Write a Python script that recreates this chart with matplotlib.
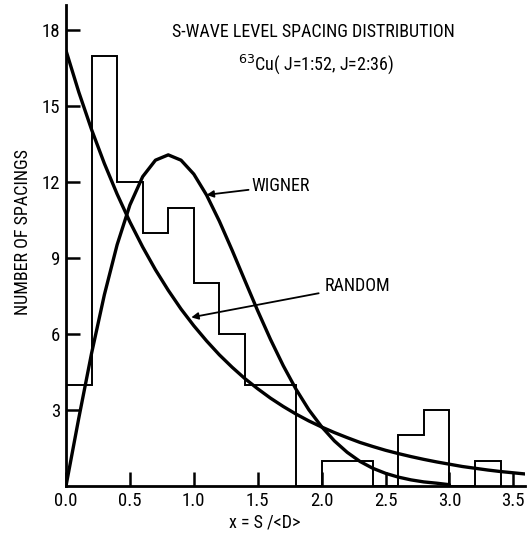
import matplotlib
matplotlib.use("Agg")
import matplotlib.pyplot as plt
from matplotlib import font_manager

names = {f.name for f in font_manager.fontManager.ttflist}
fam = [n for n in ["Liberation Sans Narrow", "DejaVu Sans Condensed", "Roboto Condensed"] if n in names]
plt.rcParams['font.family'] = fam + ['DejaVu Sans']

# Histogram: bin edges and counts
bin_edges = [0.0, 0.2, 0.4, 0.6, 0.8, 1.0, 1.2, 1.4, 1.6, 1.8, 2.0, 2.2, 2.4, 2.6, 2.8, 3.0, 3.2, 3.4]
counts = [4, 17, 12, 10, 11, 8, 6, 4, 4, 0, 1, 1, 0, 2, 3, 0, 1]

# Curves
curve_x = [0.0, 0.1, 0.2, 0.3, 0.4, 0.5, 0.6, 0.7, 0.8, 0.9, 1.0, 1.1, 1.2, 1.3, 1.4, 1.5,
           1.6, 1.7, 1.8, 1.9, 2.0, 2.1, 2.2, 2.3, 2.4, 2.5, 2.6, 2.7, 2.8, 2.9, 3.0,
           3.1, 3.2, 3.3, 3.4, 3.5, 3.6]
random_y = [17.2, 15.56, 14.08, 12.74, 11.53, 10.43, 9.44, 8.54, 7.73, 6.99, 6.33, 5.73,
            5.18, 4.69, 4.24, 3.84, 3.47, 3.14, 2.84, 2.57, 2.33, 2.11, 1.91, 1.72, 1.56,
            1.41, 1.28, 1.16, 1.05, 0.95, 0.86, 0.77, 0.70, 0.63, 0.57, 0.52, 0.47]
wigner_y = [0.0, 2.68, 5.24, 7.55, 9.53, 11.10, 12.22, 12.87, 13.08, 12.87, 12.32, 11.49,
            10.46, 9.31, 8.11, 6.92, 5.79, 4.75, 3.82, 3.01, 2.34, 1.78, 1.33, 0.97, 0.70,
            0.50, 0.35, 0.24, 0.16, 0.11, 0.05]

xticks = [0.0, 0.5, 1.0, 1.5, 2.0, 2.5, 3.0, 3.5]
xtick_labels = ["0.0", "0.5", "1.0", "1.5", "2.0", "2.5", "3.0", "3.5"]
yticks = [3, 6, 9, 12, 15, 18]

fig = plt.figure(figsize=(5.28, 5.38), dpi=100)
ax = fig.add_axes([0.125, 0.0967, 0.869, 0.894])

ax.stairs(counts, bin_edges, color='black', lw=1.4, baseline=0)
ax.plot(curve_x, random_y, color='black', lw=2.4, solid_capstyle='round')
ax.plot(curve_x[:len(wigner_y)], wigner_y, color='black', lw=2.4, solid_capstyle='round')

ax.set_xlim(0, 3.59)
ax.set_ylim(0, 19.0)
for s in ['top', 'right']:
    ax.spines[s].set_visible(False)
for s in ['left', 'bottom']:
    ax.spines[s].set_linewidth(2.0)
ax.set_xticks(xticks)
ax.set_xticklabels(xtick_labels)
ax.set_yticks(yticks)
ax.tick_params(direction='in', length=10, width=1.8, labelsize=13.5, pad=4)

ax.set_ylabel("NUMBER OF SPACINGS", fontsize=13)
ax.yaxis.set_label_coords(-0.074, 0.528)
ax.set_xlabel("x = S /<D>", fontsize=13)
ax.xaxis.set_label_coords(0.433, -0.058)

ax.text(0.54, 0.944, "S-WAVE LEVEL SPACING DISTRIBUTION", transform=ax.transAxes,
        ha='center', va='center', fontsize=13)
ax.text(0.545, 0.876, r"$^{63}$Cu( J=1:52, J=2:36)", transform=ax.transAxes,
        ha='center', va='center', fontsize=13)

ax.annotate("WIGNER", xy=(1.10, 11.5), xytext=(1.45, 11.85), fontsize=13,
            ha='left', va='center',
            arrowprops=dict(arrowstyle='-|>', color='black', lw=1.3, mutation_scale=10,
                            shrinkA=0, shrinkB=0))
ax.annotate("RANDOM", xy=(0.98, 6.66), xytext=(2.02, 7.9), fontsize=13,
            ha='left', va='center',
            arrowprops=dict(arrowstyle='-|>', color='black', lw=1.3, mutation_scale=10,
                            shrinkA=2, shrinkB=0))

fig.savefig("out.png", dpi=100)
